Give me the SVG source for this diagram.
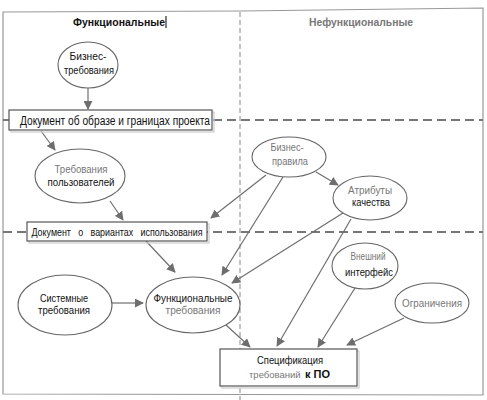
<svg xmlns="http://www.w3.org/2000/svg" width="487" height="400" viewBox="0 0 487 400">
<style>
.frame{fill:none;stroke:#999;stroke-width:1.2}
.hdash{fill:none;stroke:#777;stroke-width:2;stroke-dasharray:9,5}
.vdash{fill:none;stroke:#888;stroke-width:1;stroke-dasharray:5,3}
.ell{fill:#fff;stroke:#666;stroke-width:1.1}
.shadow{fill:none;stroke:#ccc;stroke-width:1.2}
.box{fill:#fff;stroke:#555;stroke-width:1.2}
.con{fill:none;stroke:#6e6e6e;stroke-width:1.2;marker-end:url(#ah)}
.t{font-family:"Liberation Sans",Arial,sans-serif;font-size:11.5px;fill:#111;text-anchor:middle}
.s{text-anchor:start}
.g{fill:#777}
.b{font-weight:bold}
</style>
<defs>
<marker id="ah" viewBox="0 0 10 10" refX="9" refY="5" markerWidth="9" markerHeight="9" markerUnits="userSpaceOnUse" orient="auto">
<path d="M0,0 L10,5 L0,10 z" fill="#6e6e6e"/>
</marker>
</defs>
<rect width="487" height="400" fill="#fff"/>
<g id="frame">
<path class="frame" d="M3,12 L240,11 L483,8 L483,395 L3,394 Z"/>
<line class="vdash" x1="240" y1="12" x2="240" y2="400"/>
<line class="hdash" x1="3" y1="120" x2="483" y2="120"/>
<line class="hdash" x1="3" y1="232" x2="483" y2="232"/>
<text class="t b" x="119" y="26" textLength="92" lengthAdjust="spacingAndGlyphs">Функциональные</text>
<line x1="166" y1="16" x2="166" y2="28" stroke="#000" stroke-width="1"/>
<text class="t b g" x="361" y="26" textLength="104" lengthAdjust="spacingAndGlyphs">Нефункциональные</text>
</g>
<g id="connectors">
<line class="con" x1="88" y1="88" x2="88" y2="109"/>
<line class="con" x1="41" y1="131" x2="55" y2="150"/>
<line class="con" x1="110" y1="201" x2="123" y2="220"/>
<line class="con" x1="266" y1="175" x2="211" y2="218"/>
<line class="con" x1="316" y1="172" x2="338" y2="185"/>
<line class="con" x1="283" y1="177" x2="222" y2="275"/>
<line class="con" x1="343" y1="213" x2="232" y2="283"/>
<line class="con" x1="146" y1="241" x2="175" y2="272"/>
<line class="con" x1="112" y1="303" x2="143" y2="303"/>
<line class="con" x1="226" y1="325" x2="250" y2="347"/>
<line class="con" x1="351" y1="219" x2="277" y2="346"/>
<line class="con" x1="355" y1="288" x2="318" y2="347"/>
<line class="con" x1="404" y1="318" x2="347" y2="345"/>
</g>
<g id="biz-req">
<ellipse class="ell" cx="88" cy="65" rx="30" ry="23"/>
<text class="t" x="88" y="60" textLength="37" lengthAdjust="spacingAndGlyphs">Бизнес-</text>
<text class="t" x="89" y="74" textLength="50" lengthAdjust="spacingAndGlyphs">требования</text>
</g>
<g id="vision-doc">
<rect class="shadow" x="11" y="112" width="203" height="20"/>
<rect class="box" x="9" y="110" width="203" height="20"/>
<text class="t" x="115" y="125" style="font-size:12.5px" textLength="190" lengthAdjust="spacingAndGlyphs">Документ об образе и границах проекта</text>
</g>
<g id="user-req">
<ellipse class="ell" cx="80" cy="176" rx="45" ry="27"/>
<text class="t g" x="81" y="173" textLength="53" lengthAdjust="spacingAndGlyphs">Требования</text>
<text class="t" x="81" y="186" textLength="67" lengthAdjust="spacingAndGlyphs">пользователей</text>
</g>
<g id="usecase-doc">
<rect class="shadow" x="29" y="224" width="180" height="19"/>
<rect class="box" x="27" y="222" width="180" height="19"/>
<text class="t" x="117" y="235.5" style="font-size:11px;word-spacing:6px" textLength="171" lengthAdjust="spacingAndGlyphs">Документ о вариантах использования</text>
</g>
<g id="biz-rules">
<ellipse class="ell" cx="289" cy="157" rx="37" ry="20"/>
<text class="t g" x="287" y="151" textLength="33" lengthAdjust="spacingAndGlyphs">Бизнес-</text>
<text class="t g" x="290" y="165" textLength="36" lengthAdjust="spacingAndGlyphs">правила</text>
</g>
<g id="quality">
<ellipse class="ell" cx="370" cy="198" rx="37" ry="22"/>
<text class="t g" x="370" y="194" textLength="44" lengthAdjust="spacingAndGlyphs">Атрибуты</text>
<text class="t" x="371" y="206" textLength="38" lengthAdjust="spacingAndGlyphs">качества</text>
</g>
<g id="sys-req">
<ellipse class="ell" cx="65" cy="305" rx="47" ry="30"/>
<text class="t" x="64" y="302" textLength="48" lengthAdjust="spacingAndGlyphs">Системные</text>
<text class="t" x="64" y="314" textLength="52" lengthAdjust="spacingAndGlyphs">требования</text>
</g>
<g id="func-req">
<ellipse class="ell" cx="193" cy="305" rx="47" ry="28"/>
<text class="t" x="193" y="302" textLength="79" lengthAdjust="spacingAndGlyphs">Функциональные</text>
<text class="t g" x="193" y="314" textLength="55" lengthAdjust="spacingAndGlyphs">требования</text>
</g>
<g id="ext-iface">
<ellipse class="ell" cx="365" cy="266" rx="33" ry="23"/>
<text class="t g" x="368" y="260" textLength="35" lengthAdjust="spacingAndGlyphs">Внешний</text>
<text class="t" x="369" y="276" textLength="48" lengthAdjust="spacingAndGlyphs">интерфейс</text>
</g>
<g id="constraints">
<ellipse class="ell" cx="432" cy="303" rx="37" ry="20"/>
<text class="t g" x="432" y="307" textLength="60" lengthAdjust="spacingAndGlyphs">Ограничения</text>
</g>
<g id="srs">
<rect class="shadow" x="222" y="351" width="137" height="37"/>
<rect class="box" x="220" y="349" width="137" height="37"/>
<text class="t" x="290" y="364" textLength="66" lengthAdjust="spacingAndGlyphs">Спецификация</text>
<text class="t s g" x="249" y="378" style="font-size:9.5px">требований</text>
<text class="t s b" x="305" y="378" style="font-size:11px">к ПО</text>
</g>
</svg>
